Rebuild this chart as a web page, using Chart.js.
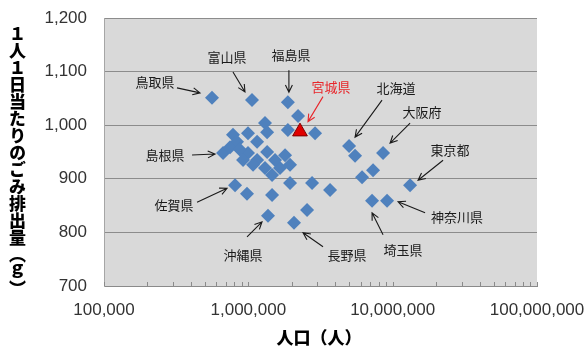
<!DOCTYPE html>
<html><head><meta charset="utf-8">
<script src="https://cdn.jsdelivr.net/npm/chart.js@4/dist/chart.umd.min.js"></script>
<style>
html,body{margin:0;padding:0;background:#fff;}
#wrap{position:relative;width:586px;height:350px;overflow:hidden;}
#c{position:absolute;left:0;top:0;}
#ytitle{position:absolute;left:8px;top:25px;writing-mode:vertical-rl;text-orientation:mixed;font-family:"Noto Sans CJK JP";font-weight:900;font-size:17px;line-height:18px;color:#000;}
#xtitle{position:absolute;left:259px;width:120px;top:327px;text-align:center;font-family:"Noto Sans CJK JP";font-weight:900;font-size:17px;line-height:20px;color:#000;}
</style></head>
<body>
<div id="wrap">
<canvas id="c" width="586" height="350"></canvas>
<div id="ytitle">１人１日当たりのごみ排出量（ｇ）</div>
<div id="xtitle">人口（人）</div>
</div>
<script>
// Population (persons) per prefecture, blue diamonds
const population = [560000,1060000,1880000,2210000,2900000,1305000,1350000,1880000,783000,995000,
  835000,1150000,668000,747000,995000,1350000,1796000,1150000,1305000,1658000,
  1460000,1945000,1078000,809000,979000,1460000,1945000,2763000,3683000,1369000,
  2551000,2073000,4986000,5488000,8582000,7314000,6136000,13200000,7196000,9147000,
  919000,1531000,876000];
// Daily waste per person (g)
const wastePerDay = [1051,1047,1043,1017,985,1004,987,991,982,985,
  969,969,948,959,948,950,944,935,920,920,
  907,926,926,888,872,870,892,892,879,831,
  842,818,961,943,948,916,903,888,859,859,
  935,935,954];
// Miyagi (highlighted)
const miyagiPopulation = [2280000];
const miyagiWaste = [988];
// Axis ticks
const yTicks = [700,800,900,1000,1100,1200];
const xMajorTicks = [100000,1000000,10000000,100000000];

// Callouts: name, dataset, point index
const calloutNames = ['鳥取県','富山県','福島県','宮城県','北海道','大阪府','東京都','神奈川県','埼玉県','長野県','沖縄県','佐賀県','島根県'];
const calloutDataset = [0,0,0,1,0,0,0,0,0,0,0,0,0];
const calloutIndex = [0,1,2,0,32,34,37,39,38,31,29,23,12];
// layout offsets (px) relative to point: text, arrow start, arrow end
const calloutLayout = [
  {t:[-57,-16],a:[-35,-10],b:[-12,-5]},
  {t:[-25,-43],a:[-19,-28],b:[-7,-8]},
  {t:[3,-47],a:[1,-32],b:[1,-10]},
  {t:[31,-45],a:[23,-35],b:[8,-10],red:true},
  {t:[47,-58],a:[33,-46],b:[6,-9]},
  {t:[39,-41],a:[27,-30],b:[7,-10]},
  {t:[40,-35],a:[33,-25],b:[8,-5]},
  {t:[70,16],a:[38,12],b:[11,1]},
  {t:[31,49],a:[11,34],b:[0,12]},
  {t:[53,32],a:[29,24],b:[9,10]},
  {t:[-25,39],a:[-21,21],b:[-6,6]},
  {t:[-61,20],a:[-38,17],b:[-8,3]},
  {t:[-58,2],a:[-31,2],b:[-8,1]}
];

const fmt = v => Number(v).toLocaleString('en-US');

const bgPlugin = {
  id:'bg',
  beforeDraw(chart){
    const {ctx, chartArea:a} = chart;
    ctx.save();
    ctx.fillStyle = '#d9d9d9';
    ctx.fillRect(a.left, a.top, a.right-a.left, a.bottom-a.top);
    ctx.restore();
  }
};

const minorTickPlugin = {
  id:'minorTicks',
  afterDraw(chart){
    const xs = chart.scales.x, ctx = chart.ctx, bottom = chart.chartArea.bottom;
    ctx.save();
    ctx.strokeStyle = '#8a8a8a';
    ctx.lineWidth = 1;
    ctx.beginPath();
    for (let k = 5; k <= 7; k++) {
      for (let m = 1; m <= 10; m++) {
        const px = Math.round(xs.getPixelForValue(m*Math.pow(10,k))) + 0.5;
        ctx.moveTo(px, bottom);
        ctx.lineTo(px, bottom-4);
      }
    }
    ctx.stroke();
    ctx.restore();
  }
};

const calloutPlugin = {
  id:'callouts',
  afterDatasetsDraw(chart){
    const ctx = chart.ctx;
    ctx.save();
    ctx.font = '13px "Noto Sans CJK JP"';
    ctx.textAlign = 'center';
    ctx.textBaseline = 'middle';
    calloutNames.forEach((name, i) => {
      const el = chart.getDatasetMeta(calloutDataset[i]).data[calloutIndex[i]];
      const x = el.x, y = el.y, L = calloutLayout[i];
      const col = L.red ? '#e8262b' : '#1a1a1a';
      ctx.fillStyle = col;
      ctx.strokeStyle = col;
      ctx.lineWidth = 1.1;
      ctx.fillText(name, x+L.t[0], y+L.t[1]);
      const x1 = x+L.a[0], y1 = y+L.a[1], x2 = x+L.b[0], y2 = y+L.b[1];
      const ang = Math.atan2(y2-y1, x2-x1), h = 8, w = 0.45;
      ctx.beginPath();
      ctx.moveTo(x1,y1); ctx.lineTo(x2,y2);
      ctx.moveTo(x2 - h*Math.cos(ang-w), y2 - h*Math.sin(ang-w));
      ctx.lineTo(x2,y2);
      ctx.lineTo(x2 - h*Math.cos(ang+w), y2 - h*Math.sin(ang+w));
      ctx.stroke();
    });
    ctx.restore();
  }
};

new Chart(document.getElementById('c'), {
  type:'scatter',
  data:{datasets:[
    {label:'都道府県', data: population.map((p,i)=>({x:p, y:wastePerDay[i]})),
     pointStyle:'rectRot', pointRadius:7, backgroundColor:'#4f81bd', borderWidth:0},
    {label:'宮城県', data: miyagiPopulation.map((p,i)=>({x:p, y:miyagiWaste[i]})),
     pointStyle:'triangle', pointRadius:8.5, backgroundColor:'#e00000', borderColor:'#800000', borderWidth:1}
  ]},
  options:{
    responsive:false, animation:false, events:[],
    layout:{padding:{top:18, right:49, left:0, bottom:0}},
    plugins:{legend:{display:false}, tooltip:{enabled:false}},
    scales:{
      x:{type:'logarithmic', min:xMajorTicks[0], max:xMajorTicks[xMajorTicks.length-1],
         grid:{display:false, drawTicks:false},
         border:{display:true, color:'#8a8a8a', width:1},
         ticks:{autoSkip:false, maxRotation:0, padding:14, color:'#333',
                font:{family:'"Liberation Sans"', size:17},
                callback:(v)=> xMajorTicks.includes(v) ? fmt(v) : ''},
         afterFit(s){ s.height = 64; s.paddingLeft = 0; s.paddingRight = 0; }},
      y:{min:yTicks[0], max:yTicks[yTicks.length-1],
         grid:{color:'#8c8c8c', lineWidth:1, drawTicks:false},
         border:{display:true, color:'#a6a6a6', width:1},
         afterBuildTicks(s){ s.ticks = yTicks.map(v=>({value:v})); },
         ticks:{padding:17, color:'#333', font:{family:'"Liberation Sans"', size:17},
                callback:(v)=> fmt(v)},
         afterFit(s){ s.width = 104; s.paddingTop = 0; s.paddingBottom = 0; }}
    }
  },
  plugins:[bgPlugin, minorTickPlugin, calloutPlugin]
});
</script>
</body></html>
